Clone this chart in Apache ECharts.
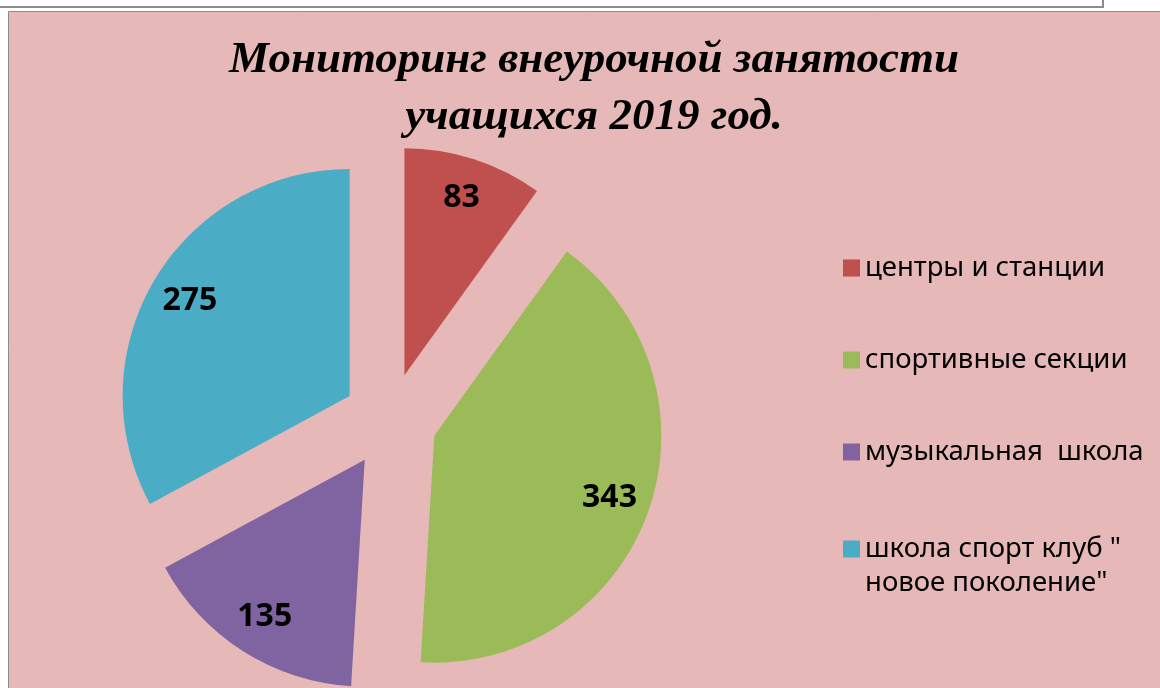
<!DOCTYPE html>
<html>
<head>
<meta charset="utf-8">
<script src="https://cdn.jsdelivr.net/npm/echarts@6/dist/echarts.min.js"></script>
<style>
    html, body { margin: 0; padding: 0; background: #fff; }
    #chart { width: 1160px; height: 688px; }
</style>
</head>
<body>
<div id="chart"></div>
<script>
var categories = ['центры и станции', 'спортивные секции', 'музыкальная  школа', 'школа спорт клуб " новое поколение"'];
var values = [83, 343, 135, 275];
var colors = ['#C0504D', '#9BBB59', '#8064A2', '#4BACC6'];

var pieCenter = [390, 420];
var pieRadius = 227;
var explode = 47;

var chart = echarts.init(document.getElementById('chart'));

var pieData = categories.map(function (name, i) {
    return {name: name, value: values[i], selected: true, itemStyle: {color: colors[i]}};
});
var labelData = categories.map(function (name, i) {
    return {name: name, value: values[i], selected: true};
});

var legendText = {fontFamily: 'Noto Sans', fontSize: 27.5, color: '#000', lineHeight: 34};

var option = {
    backgroundColor: '#fff',
    animation: false,
    title: {
        text: 'Мониторинг внеурочной занятости\nучащихся 2019 год.',
        left: 589,
        top: 27,
        textAlign: 'center',
        textStyle: {
            fontFamily: 'Liberation Serif',
            fontStyle: 'italic',
            fontWeight: 'bold',
            fontSize: 45,
            lineHeight: 57,
            color: '#000'
        }
    },
    graphic: [
        {type: 'rect', shape: {x: -2, y: -10, width: 1105, height: 17}, style: {fill: '#fff', stroke: '#8c8c8c', lineWidth: 2}, z: -10},
        {type: 'rect', shape: {x: 8.5, y: 11.5, width: 1160, height: 690}, style: {fill: '#E6B8B7', stroke: '#8c8c8c', lineWidth: 1}, z: -10}
    ],
    legend: [
        {
            orient: 'vertical',
            left: 838,
            top: 246,
            itemWidth: 17,
            itemHeight: 17,
            itemGap: 58,
            selectedMode: false,
            icon: 'rect',
            data: categories.slice(0, 3),
            textStyle: legendText
        },
        {
            orient: 'vertical',
            left: 838,
            top: 493,
            itemWidth: 17,
            itemHeight: 17,
            selectedMode: false,
            icon: 'rect',
            data: categories.slice(3),
            formatter: function (name) {
                return '\nшкола спорт клуб "\nновое поколение"';
            },
            textStyle: legendText
        }
    ],
    series: [
        {
            type: 'pie',
            center: pieCenter,
            radius: [0, pieRadius],
            startAngle: 90,
            selectedMode: 'multiple',
            selectedOffset: explode,
            silent: true,
            label: {show: false},
            labelLine: {show: false},
            data: pieData
        },
        {
            type: 'pie',
            center: pieCenter,
            radius: [139, pieRadius],
            startAngle: 90,
            selectedMode: 'multiple',
            selectedOffset: explode,
            silent: true,
            itemStyle: {color: 'transparent'},
            label: {
                show: true,
                position: 'inside',
                formatter: '{c}',
                fontFamily: 'Noto Sans',
                fontWeight: 'bold',
                fontSize: 32,
                color: '#000',
                textBorderWidth: 0
            },
            labelLine: {show: false},
            data: labelData
        }
    ]
};

chart.setOption(option);
</script>
</body>
</html>
